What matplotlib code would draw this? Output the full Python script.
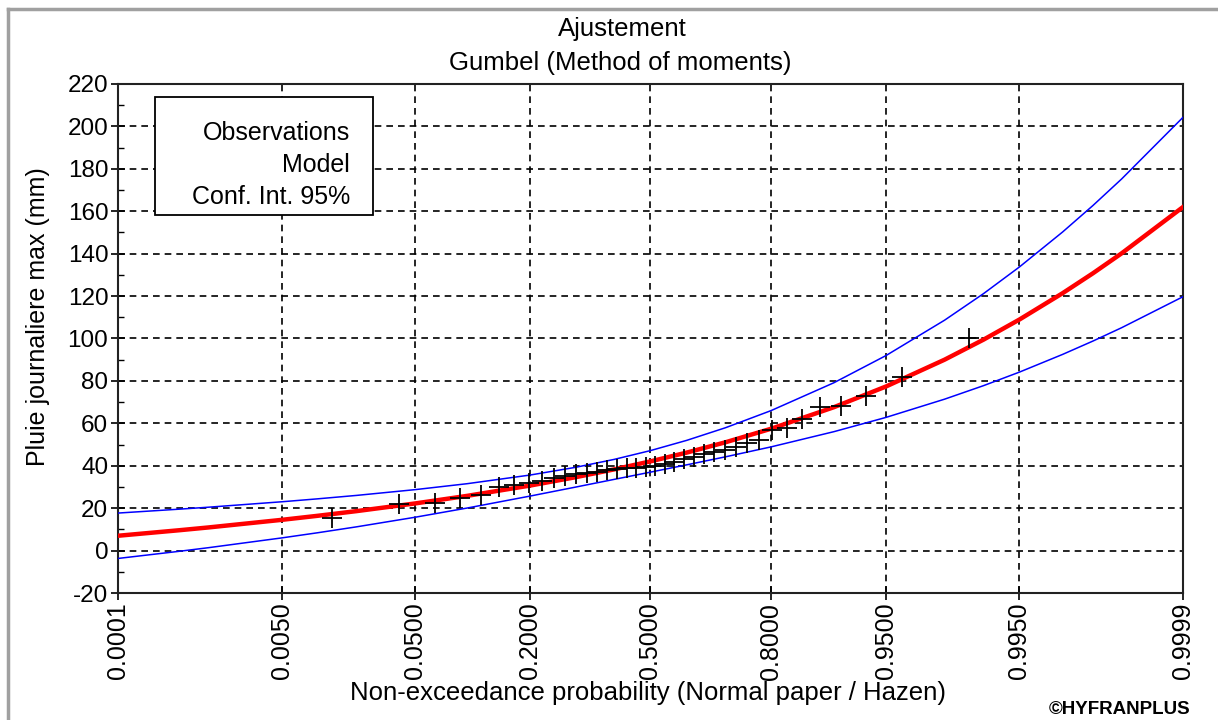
import statistics
import numpy as np
import matplotlib
matplotlib.use("Agg")
import matplotlib.pyplot as plt
from matplotlib.patches import Rectangle
from matplotlib.lines import Line2D

# ---------------- data ----------------
observations = [15.5, 22.0, 22.5, 25.0, 26.0, 30.0, 31.0, 32.0, 33.0, 34.0,
                35.0, 36.0, 36.5, 37.0, 38.0, 38.5, 39.0, 39.0, 39.5, 40.0,
                41.0, 42.0, 43.0, 44.0, 45.5, 46.5, 47.5, 49.0, 50.5, 52.0,
                57.0, 58.0, 62.0, 67.5, 68.0, 73.0, 82.0, 100.0]

curve_probs = [0.0001, 0.0005, 0.001, 0.005, 0.01, 0.02, 0.05, 0.1, 0.2, 0.3,
               0.4, 0.5, 0.6, 0.7, 0.8, 0.9, 0.95, 0.98, 0.99, 0.995, 0.998,
               0.999, 0.9995, 0.9999]
model = [6.99, 9.60, 10.89, 14.49, 16.39, 18.60, 22.22, 25.79, 30.65, 34.58,
         38.29, 42.07, 46.21, 51.08, 57.44, 67.62, 77.38, 90.01, 99.48, 108.91,
         121.36, 130.76, 140.16, 161.99]
upper = [17.69, 19.53, 20.44, 23.01, 24.39, 26.01, 28.73, 31.53, 35.61, 39.24,
         43.00, 47.15, 51.98, 57.94, 65.99, 79.16, 91.96, 108.63, 121.18, 133.69,
         150.22, 162.72, 175.23, 204.28]
lower = [-3.71, -0.33, 1.34, 5.97, 8.39, 11.19, 15.71, 20.05, 25.69, 29.92,
         33.58, 36.99, 40.44, 44.22, 48.89, 56.08, 62.80, 71.39, 77.78, 84.13,
         92.50, 98.80, 105.09, 119.70]

tick_probs = [0.0001, 0.005, 0.05, 0.2, 0.5, 0.8, 0.95, 0.995, 0.9999]
tick_labels = ["0.0001", "0.0050", "0.0500", "0.2000", "0.5000",
               "0.8000", "0.9500", "0.9950", "0.9999"]
legend_labels = ["Observations", "Model", "Conf. Int. 95%"]

# ---------------- helpers ----------------
nd = statistics.NormalDist()
def zq(p):
    return np.array([nd.inv_cdf(v) for v in np.atleast_1d(p)])

n = len(observations)
hazen = [(i + 0.5) / n for i in range(n)]

plt.rcParams['font.family'] = ['Liberation Sans', 'DejaVu Sans']
plt.rcParams['axes.unicode_minus'] = False

fig = plt.figure(figsize=(12.18, 7.2), dpi=100)
W, H = 1218, 720
L, R, T, B = 118, 1183, 84, 593
ax = fig.add_axes([L / W, 1 - B / H, (R - L) / W, (B - T) / H])

ax.set_xlim(zq(0.0001)[0], zq(0.9999)[0])
ax.set_ylim(-20, 220)

ax.plot(zq(curve_probs), upper, color='#0000ff', lw=1.1, zorder=3)
ax.plot(zq(curve_probs), lower, color='#0000ff', lw=1.1, zorder=3)
ax.plot(zq(curve_probs), model, color='#ff0000', lw=3.2, zorder=4)
ax.plot(zq(hazen), observations, linestyle='none', marker='+', color='black',
        markersize=14, markeredgewidth=1.3, zorder=5)

ax.set_xticks(zq(tick_probs))
ax.set_xticklabels(tick_labels, rotation=90, fontsize=18)
ax.set_yticks(np.arange(-20, 221, 20))
ax.set_yticks(np.arange(-20, 221, 10), minor=True)
ax.tick_params(axis='y', labelsize=17.5, direction='inout', length=10, width=1.2, pad=2)
ax.tick_params(axis='y', which='minor', direction='in', length=4, width=1.0)
ax.tick_params(axis='x', direction='inout', length=10, width=1.2, pad=2)
ax.grid(True, which='major', color='black', linestyle=(0, (4, 3)), linewidth=1.2)
ax.set_axisbelow(True)
for s in ax.spines.values():
    s.set_linewidth(1.5)
    s.set_color('#222222')

# legend box (text only)
rect = Rectangle((0.0347, 0.7426), 0.2047, 0.2319, transform=ax.transAxes,
                 facecolor='white', edgecolor='black', lw=1.3, zorder=6)
ax.add_patch(rect)
for lbl, yy in zip(legend_labels, [0.9040, 0.8412, 0.7783]):
    ax.text(0.2178, yy, lbl, transform=ax.transAxes, ha='right', va='center',
            fontsize=18, zorder=7)

# titles and labels
fig.text(622 / W, 1 - 29 / H, "Ajustement", ha='center', va='center', fontsize=18.5)
fig.text(620 / W, 1 - 63 / H, "Gumbel (Method of moments)", ha='center', va='center', fontsize=18.5)
fig.text(38 / W, 1 - 317 / H, "Pluie journaliere max (mm)", rotation=90,
         ha='center', va='center', fontsize=18)
fig.text(648 / W, 1 - 693 / H, "Non-exceedance probability (Normal paper / Hazen)",
         ha='center', va='center', fontsize=18.5)
fig.text(1190 / W, 1 - 709 / H, "©HYFRANPLUS", ha='right', va='center',
         fontsize=13.5, fontweight='bold')

# window border
fig.add_artist(Line2D([8 / W, 8 / W], [0, 1 - 9 / H], color='#a0a0a0', lw=2.5,
                      transform=fig.transFigure))
fig.add_artist(Line2D([8 / W, 1], [1 - 9 / H, 1 - 9 / H], color='#a0a0a0', lw=2.5,
                      transform=fig.transFigure))

fig.savefig("out.png", dpi=100, facecolor='white')
